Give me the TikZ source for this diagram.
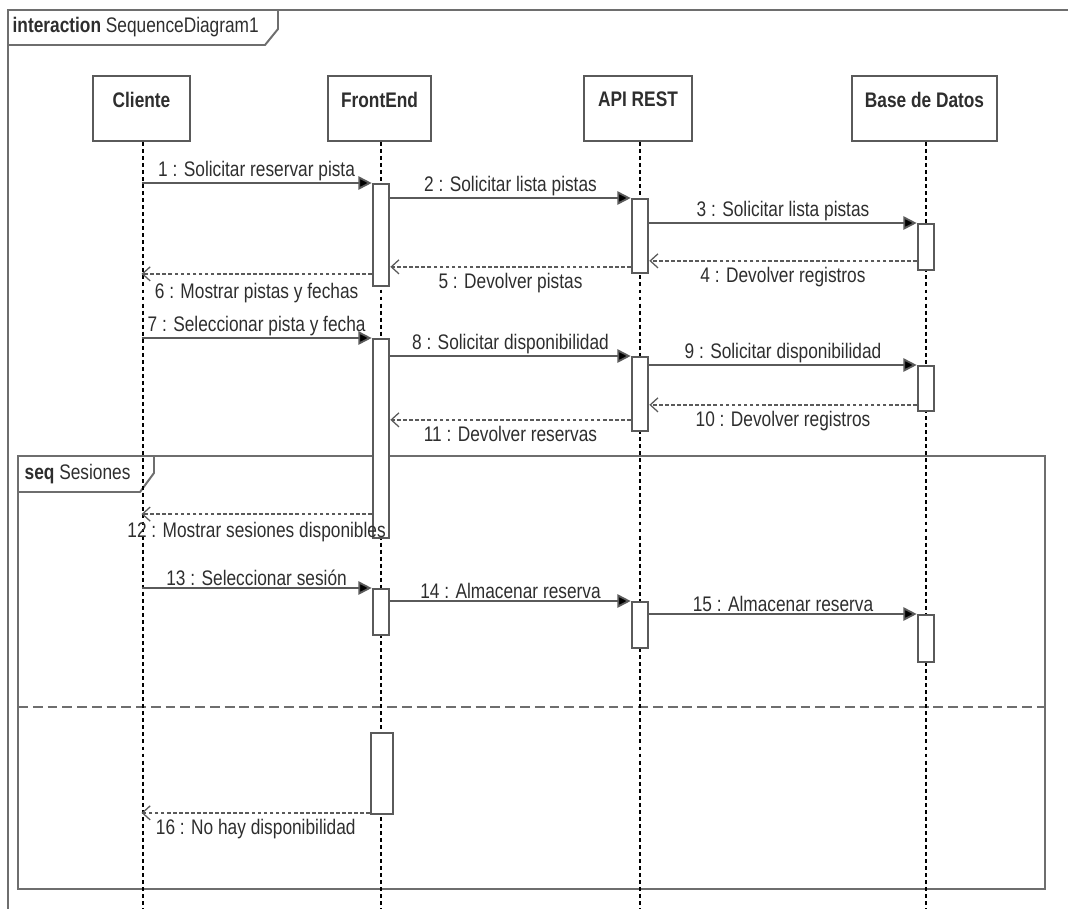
\documentclass[tikz,border=0pt]{standalone}
\usepackage{fontspec}
\setmainfont{Liberation Sans}[FakeStretch=0.82]
\usetikzlibrary{arrows.meta,positioning}

\definecolor{linegray}{HTML}{5A5A5A}
\definecolor{framegray}{HTML}{6E6E6E}
\definecolor{textgray}{HTML}{2E2E2E}

\tikzset{
  head/.style={draw=linegray, line width=1.3pt, fill=white, anchor=north, minimum height=1.625cm, inner sep=0pt},
  headtext/.style={font=\fontsize{15}{17}\selectfont\bfseries, text=textgray},
  life/.style={black, line width=0.9pt, dash pattern=on 2.8pt off 2.2pt},
  act/.style={draw=linegray, line width=1.3pt, fill=white, anchor=north, minimum width=0.42cm, inner sep=0pt},
  msg/.style={draw=linegray, line width=1.3pt, -{Triangle[length=9.5pt,width=9.5pt,fill=black]}},
  ret/.style={draw=linegray, line width=1.3pt, dash pattern=on 2.6pt off 1.7pt, -{Straight Barb[length=5.5pt,width=10pt,line width=0.9pt]}},
  lbl/.style={font=\fontsize{15}{17}\selectfont, text=textgray, inner sep=1pt},
  frame/.style={draw=framegray, line width=1.4pt}
}

\begin{document}
\begin{tikzpicture}[x=0.025cm, y=-0.025cm]

\useasboundingbox (0,0) rectangle (1068,909);
\clip (0,0) rectangle (1068,909);

% frames
\draw[frame] (8,1000) -- (8,10) -- (1100,10);
\draw[frame] (8,45) -- (265,45) -- (278,29) -- (278,10);
\node[anchor=west, lbl] (title) at (11,27) {\textbf{interaction} SequenceDiagram1};

\draw[frame] (18,456) rectangle (1045,889);
\draw[frame] (18,492) -- (140,492) -- (154,473) -- (154,456);
\node[anchor=west, lbl] (seqtitle) at (23,474) {\textbf{seq} Sesiones};
\draw[frame, dash pattern=on 7pt off 3.5pt] (18,707) -- (1045,707);

% lifelines
\node[head, minimum width=2.425cm] (cli) at (141.5,75) {};
\node[head, minimum width=2.575cm] (fe) at (379.5,75) {};
\node[head, minimum width=2.7cm] (api) at (638,75) {};
\node[head, minimum width=3.625cm] (bd) at (924.5,75) {};
\node[headtext, below=0.3cm of cli.north] {Cliente};
\node[headtext, below=0.3cm of fe.north] {FrontEnd};
\node[headtext, below=0.3cm of api.north] {API REST};
\node[headtext, below=0.3cm of bd.north] {Base de Datos};

\coordinate (cliend) at (143,909);
\coordinate (feend) at (381,909);
\coordinate (apiend) at (640,909);
\coordinate (bdend) at (926,909);
\draw[life] (cli.south -| cliend) -- (cliend);
\draw[life] (fe.south -| feend) -- (feend);
\draw[life] (api.south -| apiend) -- (apiend);
\draw[life] (bd.south -| bdend) -- (bdend);

% activations
\node[act, minimum height=2.55cm] (fe1) at (381,183) {};
\node[act, minimum height=1.85cm] (api1) at (640,198) {};
\node[act, minimum height=1.15cm] (bd1) at (926,223) {};
\node[act, minimum height=4.98cm] (fe2) at (381,338) {};
\node[act, minimum height=1.85cm] (api2) at (640,356) {};
\node[act, minimum height=1.125cm] (bd2) at (926,365) {};
\node[act, minimum height=1.15cm] (fe3) at (381,588) {};
\node[act, minimum height=1.15cm] (api3) at (640,601) {};
\node[act, minimum height=1.175cm] (bd3) at (926,614) {};
\node[act, minimum height=2.025cm, minimum width=0.55cm] (fe4) at (382,732) {};

% messages
\draw[msg] (cli |- fe1.north) -- (fe1.north west) node[pos=0.5, above, lbl] {1 : Solicitar reservar pista};
\draw[msg] (fe1.east |- api1.north) -- (api1.north west) node[pos=0.5, above, lbl] {2 : Solicitar lista pistas};
\draw[msg] (api1.east |- bd1.north) -- (bd1.north west) node[pos=0.5, above, lbl] {3 : Solicitar lista pistas};
\draw[ret] ([yshift=0.25cm]bd1.south west) -- ([yshift=0.25cm]bd1.south west -| api1.east) node[pos=0.5, below=3pt, lbl] {4 : Devolver registros};
\draw[ret] ([yshift=0.175cm]api1.south west) -- ([yshift=0.175cm]api1.south west -| fe1.east) node[pos=0.5, below=3pt, lbl] {5 : Devolver pistas};
\draw[ret] ([yshift=0.325cm]fe1.south west) -- ([yshift=0.325cm]fe1.south west -| cli) node[pos=0.5, below=5pt, lbl] {6 : Mostrar pistas y fechas};

\draw[msg] (cli |- fe2.north) -- (fe2.north west) node[pos=0.5, above, lbl] {7 : Seleccionar pista y fecha};
\draw[msg] (fe2.east |- api2.north) -- (api2.north west) node[pos=0.5, above, lbl] {8 : Solicitar disponibilidad};
\draw[msg] (api2.east |- bd2.north) -- (bd2.north west) node[pos=0.5, above, lbl] {9 : Solicitar disponibilidad};
\draw[ret] ([yshift=0.175cm]bd2.south west) -- ([yshift=0.175cm]bd2.south west -| api2.east) node[pos=0.5, below=3pt, lbl] {10 : Devolver registros};
\draw[ret] ([yshift=0.3cm]api2.south west) -- ([yshift=0.3cm]api2.south west -| fe2.east) node[pos=0.5, below=3pt, lbl] {11 : Devolver reservas};
\draw[ret] ([yshift=0.625cm]fe2.south west) -- ([yshift=0.625cm]fe2.south west -| cli) node[pos=0.5, below=4pt, lbl] {12 : Mostrar sesiones disponibles};

\draw[msg] (cli |- fe3.north) -- (fe3.north west) node[pos=0.5, above, lbl] {13 : Seleccionar sesión};
\draw[msg] (fe3.east |- api3.north) -- (api3.north west) node[pos=0.5, above, lbl] {14 : Almacenar reserva};
\draw[msg] (api3.east |- bd3.north) -- (bd3.north west) node[pos=0.5, above, lbl] {15 : Almacenar reserva};

\draw[ret] ([yshift=0.05cm]fe4.south west) -- ([yshift=0.05cm]fe4.south west -| cli) node[pos=0.5, below=3pt, lbl] {16 : No hay disponibilidad};

\end{tikzpicture}
\end{document}
